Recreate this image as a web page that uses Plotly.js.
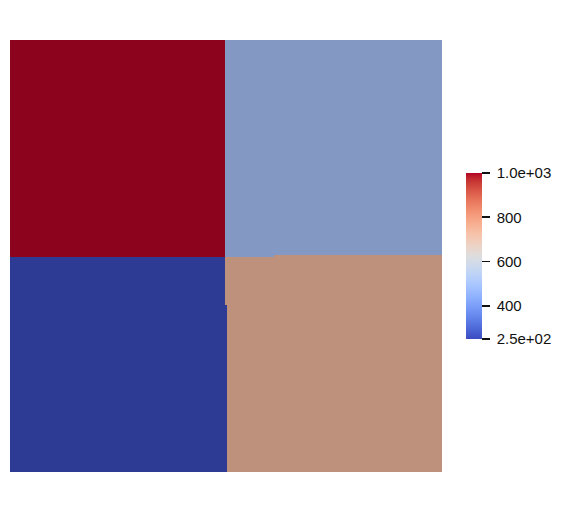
<!DOCTYPE html>
<html>
<head>
<meta charset="utf-8">
<script src="https://cdn.plot.ly/plotly-3.0.1.min.js"></script>
<style>body{margin:0;background:#fff}#plot{width:562px;height:505px}</style>
</head>
<body>
<div id="plot"></div>
<script>
// cell edges of the field (pixel-like units of the render)
var xEdges = [10, 225, 227, 274, 442];
var yEdges = [40, 255, 257, 305, 472];

// quadrant values
var topLeft = 1000, topRight = 500, bottomLeft = 250, bottomRight = 740;

var zField = [
  [topLeft,    topRight,    topRight,    topRight],
  [topLeft,    topRight,    topRight,    bottomRight],
  [bottomLeft, bottomRight, bottomRight, bottomRight],
  [bottomLeft, bottomLeft,  bottomRight, bottomRight]
];

var cMin = 250, cMax = 1000;
var tickVals = [250, 400, 600, 800, 1000];
var tickText = ['\u00a02.5e+02', '\u00a0400', '\u00a0600', '\u00a0800', '\u00a01.0e+03'];

// cool to warm
var coolWarm = [
  [59,76,192],[68,90,204],[77,104,215],[87,117,225],[98,130,234],[108,142,241],
  [119,154,247],[130,165,251],[141,176,254],[152,185,255],[163,194,255],[174,201,253],
  [184,208,249],[194,213,244],[204,217,238],[213,219,230],[221,221,221],[229,216,209],
  [236,211,197],[241,204,185],[245,196,173],[247,187,160],[247,177,148],[247,166,135],
  [244,154,123],[241,141,111],[236,127,99],[229,112,88],[222,96,77],[213,80,66],
  [203,62,56],[192,40,47],[180,4,38]
];

function scale(f){
  return coolWarm.map(function(c,i){
    return [i/(coolWarm.length-1),
      'rgb('+Math.round(c[0]*f)+','+Math.round(c[1]*f)+','+Math.round(c[2]*f)+')'];
  });
}

var field = {
  type: 'heatmap',
  x: xEdges, y: yEdges, z: zField,
  zmin: cMin, zmax: cMax,
  colorscale: scale(0.77),
  showscale: false,
  hoverinfo: 'skip'
};

var bar = {
  type: 'scatter', mode: 'markers',
  x: [null, null], y: [null, null],
  showlegend: false, hoverinfo: 'skip',
  marker: {
    color: [cMin, cMax], cmin: cMin, cmax: cMax,
    colorscale: scale(1), showscale: true,
    colorbar: {
      thickness: 16, thicknessmode: 'pixels',
      len: 166, lenmode: 'pixels',
      x: (466-10)/432, xanchor: 'left', xref: 'paper',
      y: 0.5, yanchor: 'middle', yref: 'paper',
      xpad: 0, ypad: 0, outlinewidth: 0,
      tickmode: 'array', tickvals: tickVals, ticktext: tickText,
      ticks: 'outside', ticklen: 8, tickwidth: 1.8, tickcolor: '#111',
      tickfont: {family: 'Liberation Sans, Arial, sans-serif', size: 15, color: '#111'}
    }
  }
};

var layout = {
  width: 562, height: 505,
  margin: {l: 10, r: 120, t: 40, b: 33},
  paper_bgcolor: '#fff', plot_bgcolor: '#fff',
  xaxis: {range: [10, 442], visible: false, fixedrange: true},
  yaxis: {range: [472, 40], visible: false, fixedrange: true},
  showlegend: false
};

Plotly.newPlot('plot', [field, bar], layout, {displayModeBar: false, staticPlot: true});
</script>
</body>
</html>
